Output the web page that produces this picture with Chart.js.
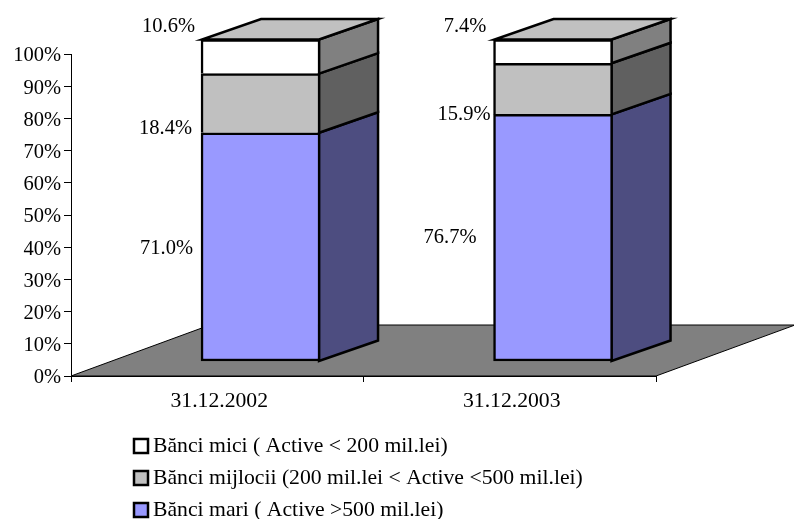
<!DOCTYPE html>
<html>
<head>
<meta charset="utf-8">
<style>
  body { margin: 0; background: #fff; }
  canvas { display: block; }
</style>
<script src="https://cdn.jsdelivr.net/npm/chart.js@4"></script>
</head>
<body>
<canvas id="chart" width="794" height="519"></canvas>
<script>
const categories = ["31.12.2002", "31.12.2003"];
const mari = [71.0, 76.7];
const mijlocii = [18.4, 15.9];
const mici = [10.6, 7.4];
const seriesNames = [
  "Bănci mari ( Active >500 mil.lei)",
  "Bănci mijlocii (200 mil.lei < Active <500 mil.lei)",
  "Bănci mici ( Active < 200 mil.lei)",
];

const font = "Liberation Serif";
const tickSize = 20.5;
const wideSize = 21.7;
const edge = 2.5;

// excel style 3d look
const barDepth = { x: 59, y: 20.5 };
const floorDepth = { x: 139, y: 51 };
const sideColors = ["#4d4d80", "#606060", "#808080"];
const topColor = "#c0c0c0";

// where the value labels sit, relative to the top middle of each segment
const labelOffsets = [
  [[-94, 116], [-103, 123]],
  [[-95, 55], [-89, 51]],
  [[-92, -13], [-88, -13]],
];

function polygon(ctx, pts, fill, stroke, width) {
  ctx.beginPath();
  pts.forEach((p, i) => (i ? ctx.lineTo(p[0], p[1]) : ctx.moveTo(p[0], p[1])));
  ctx.closePath();
  ctx.fillStyle = fill;
  ctx.fill();
  ctx.lineWidth = width;
  ctx.strokeStyle = stroke;
  ctx.stroke();
}

const depthPlugin = {
  id: "depth",
  beforeDatasetsDraw(chart) {
    const ctx = chart.ctx;
    const { left, right } = chart.scales.x;
    const y0 = chart.scales.y.getPixelForValue(0);
    ctx.save();
    ctx.lineJoin = "miter";
    polygon(
      ctx,
      [
        [left, y0],
        [right, y0],
        [right + floorDepth.x, y0 - floorDepth.y],
        [left + floorDepth.x, y0 - floorDepth.y],
      ],
      "#808080",
      "#000",
      1
    );
    chart.data.datasets.forEach((ds, d) => {
      chart.getDatasetMeta(d).data.forEach((bar) => {
        const r = bar.x + bar.width / 2 - 1;
        const l = bar.x - bar.width / 2 + 1;
        polygon(
          ctx,
          [
            [r, bar.y],
            [r + barDepth.x, bar.y - barDepth.y],
            [r + barDepth.x, bar.base - barDepth.y],
            [r, bar.base],
          ],
          sideColors[d],
          "#000",
          edge
        );
        if (d === chart.data.datasets.length - 1) {
          polygon(
            ctx,
            [
              [l, bar.y],
              [r, bar.y],
              [r + barDepth.x, bar.y - barDepth.y],
              [l + barDepth.x, bar.y - barDepth.y],
            ],
            topColor,
            "#000",
            edge
          );
        }
      });
    });
    ctx.restore();
  },
  afterDatasetsDraw(chart) {
    const ctx = chart.ctx;
    ctx.save();
    ctx.font = tickSize + "px '" + font + "'";
    ctx.fillStyle = "#000";
    ctx.textAlign = "center";
    ctx.textBaseline = "middle";
    chart.data.datasets.forEach((ds, d) => {
      chart.getDatasetMeta(d).data.forEach((bar, i) => {
        const off = labelOffsets[d][i];
        ctx.fillText(ds.data[i].y.toFixed(1) + "%", bar.x + off[0], bar.y + off[1]);
      });
    });

    // legend, top series first
    ctx.font = wideSize + "px '" + font + "'";
    ctx.textAlign = "left";
    const legendX = 133;
    const legendY = 446;
    const rowGap = 32;
    chart.data.datasets
      .slice()
      .reverse()
      .forEach((ds, i) => {
        const y = legendY + i * rowGap;
        ctx.fillStyle = ds.backgroundColor;
        ctx.lineWidth = edge;
        ctx.strokeStyle = "#000";
        ctx.fillRect(legendX + 1, y - 7, 14, 14);
        ctx.strokeRect(legendX + 1, y - 7, 14, 14);
        ctx.fillStyle = "#000";
        ctx.fillText(ds.label, legendX + 20, y);
      });
    ctx.restore();
  },
};

const topBorder = { top: edge, left: edge, right: edge, bottom: 0 };

function toPoints(values) {
  return values.map((v, i) => ({ x: i + 1, y: v }));
}

new Chart(document.getElementById("chart"), {
  type: "bar",
  data: {
    labels: categories,
    datasets: [
      {
        label: seriesNames[0],
        data: toPoints(mari),
        backgroundColor: "#9999ff",
        borderWidth: { top: edge, left: edge, right: edge, bottom: edge },
      },
      {
        label: seriesNames[1],
        data: toPoints(mijlocii),
        backgroundColor: "#c0c0c0",
        borderWidth: topBorder,
      },
      {
        label: seriesNames[2],
        data: toPoints(mici),
        backgroundColor: "#ffffff",
        borderWidth: topBorder,
      },
    ].map((ds) => ({
      ...ds,
      xAxisID: "xBar",
      yAxisID: "yBar",
      borderColor: "#000",
      borderSkipped: false,
      barThickness: 119,
      clip: false,
    })),
  },
  options: {
    responsive: false,
    animation: false,
    layout: { padding: { top: 54, right: 138, bottom: 98, left: 0 } },
    plugins: { legend: { display: false }, tooltip: { enabled: false } },
    scales: {
      x: {
        type: "category",
        offset: true,
        afterFit: (s) => (s.height = 45),
        grid: { offset: true, drawOnChartArea: false, color: "#000", tickLength: 6 },
        border: { color: "#000" },
        ticks: {
          color: "#000",
          font: { family: font, size: wideSize },
          padding: 6,
          maxRotation: 0,
          labelOffset: 2,
        },
      },
      y: {
        min: 0,
        max: 100,
        afterFit: (s) => (s.width = 71),
        grid: { drawOnChartArea: false, color: "#000", tickLength: 7 },
        border: { color: "#000" },
        ticks: {
          stepSize: 10,
          color: "#000",
          padding: 3,
          labelOffset: 2,
          font: { family: font, size: tickSize },
          callback: (v) => v + "%",
        },
      },
      // the bars stand further back on the floor than the axes, so they get their own scales
      xBar: { type: "linear", axis: "x", display: false, offset: false, stacked: true, min: 0.352, max: 2.352 },
      yBar: { type: "linear", axis: "y", display: false, stacked: true, min: -4.665, max: 95.49 },
    },
  },
  plugins: [depthPlugin],
});
</script>
</body>
</html>
